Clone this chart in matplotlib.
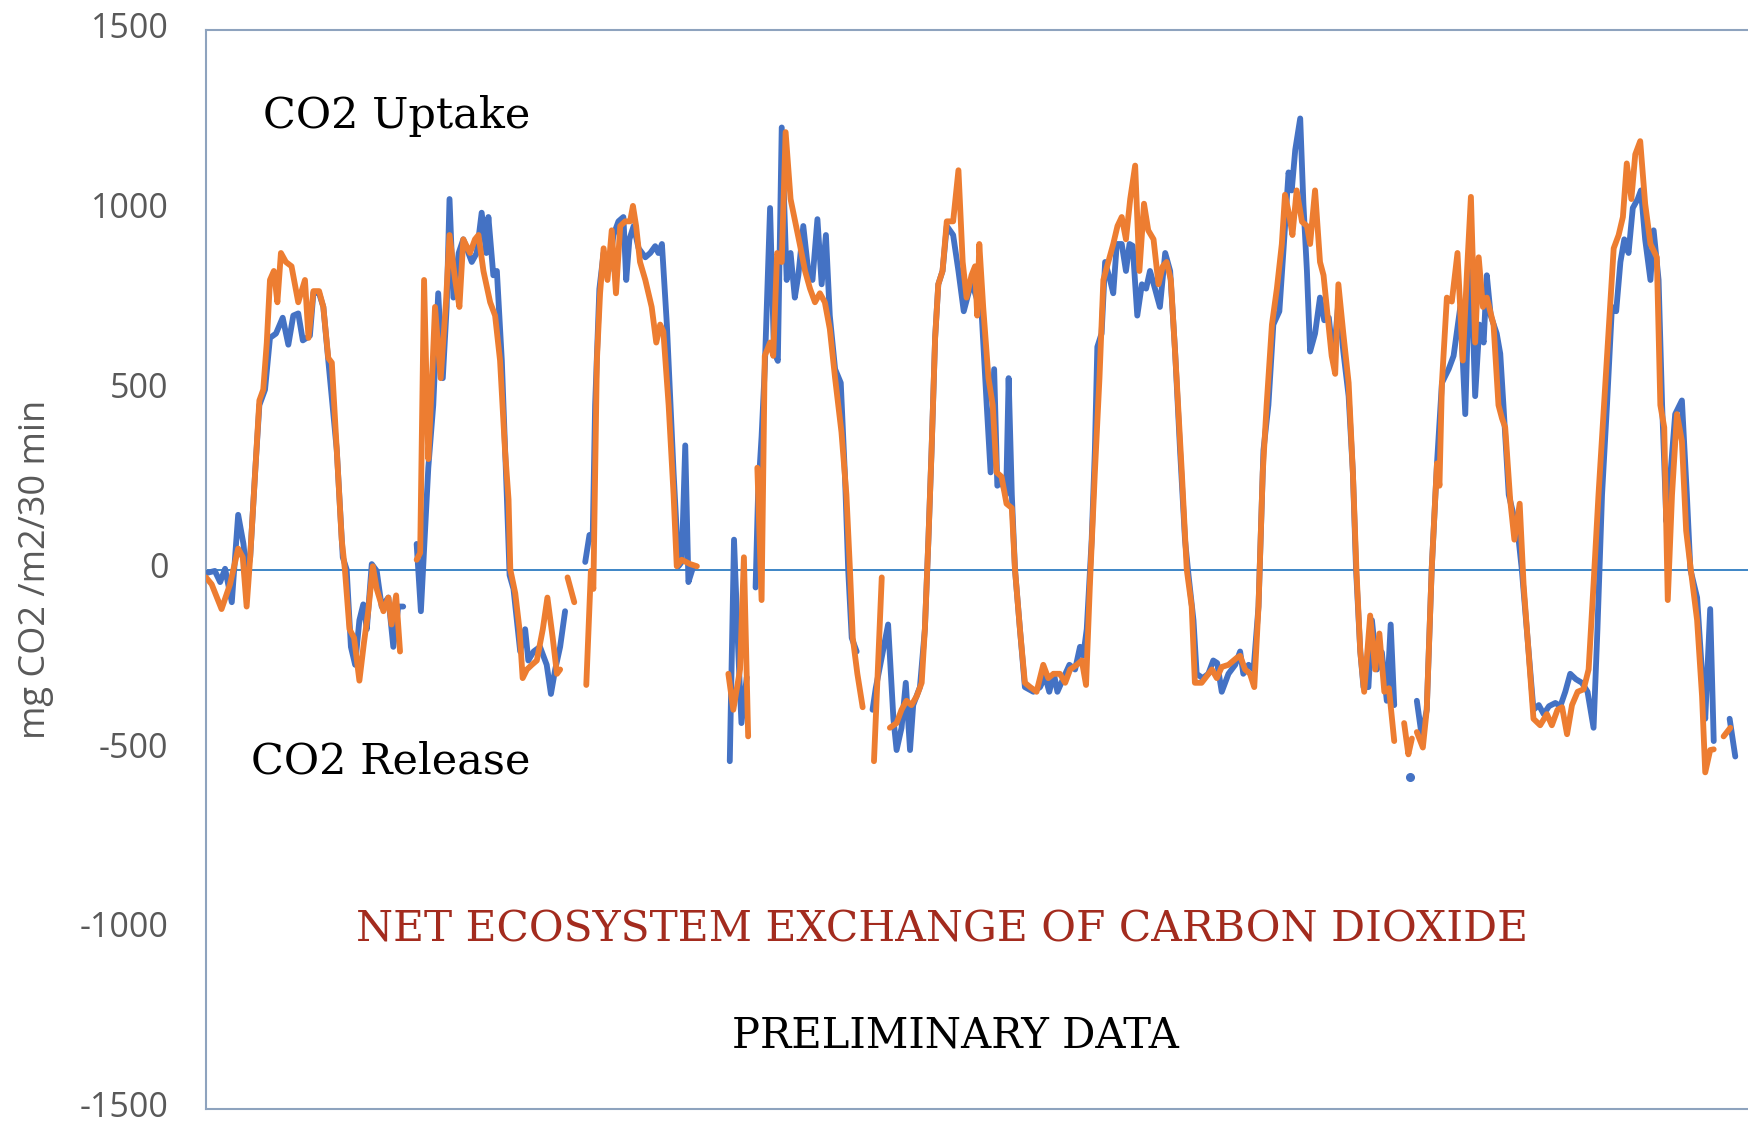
import numpy as np
import matplotlib
matplotlib.use("Agg")
import matplotlib.pyplot as plt

nan = np.nan

# half-hour index along the record, NEE in mg CO2 /m2/30 min (positive = uptake)
blue_t = [
    0, 2.5, 4.0, 5.4, 7.3, 9.1, 10.6, 11.5, 12.5, 13.9, 15.1, 16.7, 18.1, 19.8, 21.7, 23.3, 24.7,
    26.1, 27.4, 29.4, 30.4, 32.0, 33.2, 34.6, 37.0, 38.7, 39.8, 41.0, 42.2, 43.4, 44.5, 45.5, 46.9,
    48.3, 49.7, 51.6, 53.0, 54.4, 55.8, 57.5,
    59.6, 60.8, 62.9, 64.3, 65.7, 67.0, 68.1, 68.9, 70.0, 71.5, 72.8, 75.2, 76.6, 78.0, 79.3, 79.9,
    81.3, 82.3, 83.7, 85.1, 85.9, 87.0, 88.9, 90.3, 91.2, 92.7, 94.5, 96.4, 97.6, 98.8, 100.2, 101.6,
    104.0,
    107.3, 108.5, 109.4, 110.1, 111.3, 112.5, 113.9, 115.3, 116.7, 118.1, 118.9, 119.8, 121.0, 122.4,
    124.3, 125.7, 127.1, 128.0, 129.0, 130.4, 132.3, 133.7, 134.6, 135.6, 136.5, 137.9, 142.0,
    148.2, 149.4, 150.6, 151.5, 153.0, 154.2,
    155.5, 156.2, 157.2, 158.1, 159.6, 160.7, 161.8, 162.9, 164.3, 165.4, 166.6, 167.6, 169.0, 170.4,
    171.6, 173.0, 174.2, 175.4, 176.5, 178.0, 179.6, 180.8, 181.7, 182.7, 184.1, 186.0,
    188.6, 189.5, 193.0, 194.5, 195.4, 196.8, 198.0, 199.2, 200.1, 202.0, 203.4, 204.4, 205.3, 206.3,
    207.2, 208.4, 209.6, 211.4, 212.9, 214.4, 216.6, 218.0, 219.5, 220.9, 222.0, 223.0, 223.9, 225.1,
    226.4, 227.1, 228.0, 228.9, 230.3, 231.7, 234.1, 236.0, 237.4, 238.6, 239.9, 240.9, 242.6, 244.3,
    245.9, 247.3, 248.2, 249.2, 250.6, 251.5, 252.2, 253.4, 254.4, 255.8, 256.7, 257.7, 259.1, 260.3,
    261.3, 262.2, 263.5, 264.8, 266.0, 267.1, 268.5, 269.9, 271.4, 272.8, 274.2, 275.6, 277.0, 278.0,
    279.4, 280.3, 282.0, 283.6, 285.0, 286.1, 287.4, 289.3, 291.2, 292.6, 293.5, 295.0, 296.4, 297.8,
    299.2, 300.6, 302.0, 303.7, 304.9, 306.3, 307.2, 308.2, 309.6, 310.5, 311.5, 312.4, 313.8, 315.2,
    316.4, 317.7, 319.0, 320.4, 321.8, 323.3, 324.5, 325.4, 326.6, 327.5, 328.9, 329.9, 331.3, 332.7,
    334.1, 335.2, 336.2, 338.5,
    340.7, 341.6,
    342.6, 344.0, 345.4, 346.8, 348.3, 349.7, 351.6, 353.0, 354.9, 356.3, 357.7, 359.1, 360.3, 361.5,
    362.4, 363.5, 365.2, 366.2, 367.1, 368.6, 370.0, 371.4, 372.3, 373.7, 375.6, 377.1, 378.5, 380.0,
    381.8, 383.2, 384.6, 386.0, 387.6, 389.3, 390.9, 392.6, 393.7, 395.0, 396.4, 397.8, 399.0, 400.2,
    401.3, 402.5, 403.7, 405.1, 406.0, 407.2, 408.7, 409.6, 411.0, 412.0, 413.2, 414.3, 415.7, 417.6,
    419.0, 420.0, 421.9, 423.3, 424.2, 425.6, 426.6, 428.5,
    431.1, 432.7,
]
blue_v = [
    -10, -4, -35, 2, -91, 152, 71, -16, 34, 270, 457, 500, 644, 656, 700, 625, 706,
    712, 637, 650, 770, 768, 730, 581, 332, 34, 0, -215, -265, -141, -97, -166, 15,
    -4, -103, -78, -215, -103, -103, nan,
    71, -116, 283, 457, 768, 532, 730, 1030, 756, 880, 918, 855, 880, 992, 880, 980,
    818, 830, 581, 208, -16, -54, -228, -166, -253, -228, -215, -265, -346, -278, -215, -116,
    nan,
    21, 96, 83, 457, 780, 880, 830, 930, 968, 980, 805, 918, 955, 893,
    868, 880, 899, 880, 905, 681, 270, 9, 21, 345, -35, 9, nan,
    -533, 83, -228, -427, -300, nan,
    -50, 208, 370, 560, 1005, 606, 580, 1229, 805, 880, 756, 818, 955, 830,
    805, 974, 793, 930, 706, 557, 519, 258, 0, -190, -228, nan,
    -390, -330, -153, -415, -502, -440, -315, -502, -377, -327, -166, 83, 332, 644,
    793, 830, 955, 930, 830, 718, 800, 756, 706, 457, 270, 557, 233, 245,
    208, 532, 208, 0, -166, -327, -340, -327, -296, -340, -290, -340, -302, -265,
    -278, -215, -240, -166, 83, 332, 619, 656, 855, 805, 768, 905, 905, 830,
    905, 900, 706, 793, 781, 830, 781, 730, 880, 830, 606, 332, 83, -16,
    -141, -290, -302, -290, -253, -260, -340, -290, -265, -228, -290, -265, -278, -103,
    332, 457, 681, 718, 893, 1104, 1054, 1167, 1254, 1017, 830, 606, 656, 756,
    693, 700, 581, 743, 606, 482, 270, 0, -228, -327, -327, -141, -278, -230,
    -365, -153, -377, nan,
    -576, nan,
    -365, -464, -390, 0, 295, 519, 557, 594, 730, 432, 918, 482, 681, 631,
    818, 706, 656, 600, 457, 208, 150, 83, 0, -166, -390, -377, -402, -380,
    -371, -380, -340, -290, -305, -315, -340, -440, -166, 208, 457, 730, 718, 855,
    918, 880, 1005, 1030, 1054, 918, 805, 943, 805, 457, 133, 258, 432, 470,
    208, 0, -78, -290, -415, -110, -477, nan,
    -415, -520,
]

orange_t = [
    0, 1.6, 4.4, 6.8, 9.1, 10.4, 11.5, 12.5, 13.9, 15.1, 16.2, 17.2, 18.1, 19.2, 20.2, 21.2, 22.6,
    24.2, 26.1, 28.0, 29.0, 30.4, 32.0, 33.2, 34.6, 35.6, 37.0, 38.4, 39.3, 40.6, 41.9, 43.4, 44.7,
    45.9, 47.2, 48.3, 50.2, 51.6, 52.5, 53.8, 54.9, 57.0,
    59.6, 60.6, 61.7, 62.9, 63.9, 64.8, 66.4, 67.9, 68.9, 70.5, 71.7, 72.8, 74.7, 76.1, 77.1, 78.5,
    80.4, 81.8, 83.2, 84.6, 85.6, 86.1, 87.5, 88.7, 89.6, 90.8, 92.2, 93.6, 95.3, 96.6, 98.1, 99.3,
    100.2, 101.2,
    102.3, 104.2, 106.0,
    107.6, 108.9, 109.6, 110.6, 111.5, 112.5, 113.6, 114.8, 116.0, 117.2, 118.6, 120.0, 120.8, 121.7,
    122.8, 124.3, 126.1, 127.4, 128.5, 129.4, 130.9, 132.3, 133.2, 134.6, 137.0, 138.9, 143.0,
    147.8, 149.2, 151.1, 152.2, 153.4, 154.8,
    156.0, 157.2, 158.1, 159.6, 160.5, 161.6, 162.9, 164.0, 165.4, 168.0, 169.5, 170.9, 172.3, 173.7,
    175.1, 176.5, 178.0, 179.8, 181.2, 182.2, 183.0, 184.3, 185.8, 187.5,
    189.0, 191.2, 192.3,
    193.5, 195.4, 196.8, 198.2, 199.6, 201.1, 202.5, 203.4, 204.4, 205.3, 206.3, 207.2, 208.4, 209.6,
    211.4, 212.9, 214.1, 215.2, 216.6, 217.6, 218.2, 218.8, 219.9, 221.4, 222.6, 223.7, 225.1, 226.5,
    228.0, 228.9, 230.3, 231.7, 233.2, 235.0, 236.9, 238.3, 239.8, 241.6, 243.1, 244.5, 246.4, 247.8,
    249.0, 250.1, 251.5, 252.8, 253.9, 256.7, 257.9, 259.1, 260.3, 261.5, 262.9, 264.1, 265.4, 266.6,
    268.1, 269.5, 270.7, 271.8, 273.0, 274.7, 276.1, 277.5, 278.9, 279.8, 281.7, 284.6, 286.0, 287.4,
    289.3, 291.6, 292.6, 294.0, 295.4, 296.6, 297.8, 299.0, 300.1, 301.6, 303.0, 304.4, 305.3, 306.6,
    307.4, 308.6, 310.1, 311.5, 312.4, 313.8, 315.2, 316.2, 318.5, 319.5, 320.4, 321.8, 323.3, 324.5,
    325.5, 326.6, 327.7, 329.4, 330.8, 332.0, 333.4, 334.7, 336.2, 337.6,
    339.0, 340.2, 341.2, 341.9,
    342.6, 344.3, 345.4, 346.8, 348.3, 349.0, 349.7, 351.1, 352.5, 354.1, 355.6, 356.8, 357.9, 359.1,
    360.1, 361.3, 362.4, 364.3, 365.7, 366.7, 367.6, 369.0, 370.2, 371.7, 372.8, 374.2, 375.6, 377.5,
    379.4, 380.8, 382.4, 383.7, 385.1, 386.5, 388.1, 389.8, 391.2, 392.6, 394.0, 395.4, 396.9, 398.3,
    399.7, 400.9, 402.0, 403.3, 404.4, 405.8, 407.2, 408.7, 410.5, 411.5, 412.6, 413.6, 414.8, 416.2,
    417.6, 418.8, 420.0, 421.9, 423.3, 424.2, 425.6, 426.6, 428.0,
    429.4, 431.3,
]
orange_v = [
    -22, -41, -110, -41, 58, 34, -103, 34, 270, 470, 500, 631, 805, 830, 743, 880, 855,
    843, 743, 805, 644, 774, 774, 730, 588, 575, 332, 83, 0, -166, -190, -309, -203,
    -116, 9, -54, -116, -78, -153, -72, -228, nan,
    27, 46, 805, 307, 519, 730, 532, 743, 930, 805, 730, 918, 880, 918, 930, 830,
    743, 706, 581, 332, 195, 0, -66, -166, -302, -278, -265, -253, -166, -78, -190, -290,
    -278, nan,
    -22, -91, nan,
    -321, -4, -54, 581, 768, 893, 805, 943, 768, 955, 968, 968, 1011, 955,
    855, 805, 730, 631, 681, 662, 457, 208, 9, 27, 15, 9, nan,
    -290, -390, -278, 34, -464, nan,
    283, -85, 594, 631, 594, 880, 855, 1216, 1030, 905, 830, 781, 743, 768,
    743, 669, 532, 382, 208, 0, -190, -290, -383, nan,
    -533, -22, nan,
    -440, -427, -390, -365, -377, -352, -315, -166, 83, 332, 644, 793, 830, 968,
    968, 1110, 855, 756, 818, 843, 706, 905, 730, 532, 457, 270, 258, 183,
    171, 0, -166, -315, -327, -340, -265, -302, -290, -290, -315, -278, -265, -253,
    -321, -41, 270, 532, 805, 905, 955, 980, 918, 1030, 1123, 830, 1017, 943,
    918, 793, 843, 855, 805, 519, 270, 0, -103, -315, -315, -278, -302, -271,
    -265, -246, -240, -278, -290, -327, -103, 270, 457, 681, 781, 905, 1042, 980,
    930, 1054, 967, 955, 905, 1054, 855, 818, 594, 544, 793, 656, 519, 270,
    0, -228, -340, -128, -278, -178, -340, -330, -477, nan,
    -427, -514, -470, nan,
    -452, -495, -390, 0, 295, 233, 519, 756, 745, 880, 581, 830, 1036, 631,
    868, 730, 756, 681, 457, 420, 395, 195, 83, 183, -41, -228, -415, -433,
    -402, -433, -390, -383, -458, -377, -340, -333, -278, -41, 208, 432, 669, 893,
    930, 980, 1129, 1030, 1154, 1191, 1017, 905, 868, 457, 395, -85, 208, 432,
    357, 108, 9, -141, -352, -564, -502, -500, nan,
    -464, -440,
]

y_ticks = [-1500, -1000, -500, 0, 500, 1000, 1500]

W, H = 1748, 1124
fig = plt.figure(figsize=(W / 100, H / 100), dpi=100)
ax = fig.add_axes([206 / W, 1 - 1109 / H, 1 - 206 / W, (1109 - 30) / H])

blue_col = "#4472C4"
orange_col = "#ED7D31"

for t, v, c, z in [(blue_t, blue_v, blue_col, 3), (orange_t, orange_v, orange_col, 4)]:
    t = np.asarray(t, float)
    v = np.asarray(v, float)
    ax.plot(t, v, color=c, lw=4.2, solid_joinstyle="round", solid_capstyle="round", zorder=z)
    # points standing alone between gaps
    ok = ~np.isnan(v)
    prev_ok = np.r_[False, ok[:-1]]
    next_ok = np.r_[ok[1:], False]
    alone = ok & ~prev_ok & ~next_ok
    ax.plot(t[alone], v[alone], "o", color=c, ms=5.5, zorder=z)

ax.axhline(0, color="#3D85C6", lw=1.4, zorder=2)

ax.set_xlim(0, 436.3)
ax.set_ylim(-1500, 1500)
ax.set_xticks([])
ax.set_yticks([])

# tick labels drawn by hand so the lowest one sits inside the canvas
for val in y_ticks:
    ax.annotate(str(val), xy=(0, val), xycoords=("axes fraction", "data"),
                xytext=(-27, 0.5), textcoords="offset points", ha="right", va="center",
                fontsize=24.5, color="#595959", family="Open Sans", annotation_clip=False)

for side in ["left", "top", "bottom"]:
    ax.spines[side].set_color("#8EA3BE")
    ax.spines[side].set_linewidth(1.5)
ax.spines["right"].set_visible(False)

fig.text(36 / W, 1 - 569 / H, "mg CO2 /m2/30 min", rotation=90, ha="center", va="center",
         fontsize=26, color="#595959", family="Open Sans")

serif = "DejaVu Serif"
fig.text(263 / W, 1 - 116 / H, "CO2 Uptake", ha="left", va="center",
         fontsize=31, color="black", family=serif)
fig.text(251 / W, 1 - 761 / H, "CO2 Release", ha="left", va="center",
         fontsize=31, color="black", family=serif)
fig.text(942 / W, 1 - 929 / H, "NET ECOSYSTEM EXCHANGE OF CARBON DIOXIDE", ha="center",
         va="center", fontsize=30.5, color="#A32B1E", family=serif)
fig.text(955 / W, 1 - 1035 / H, "PRELIMINARY DATA", ha="center", va="center",
         fontsize=30, color="black", family=serif)

fig.savefig("out.png", dpi=100, facecolor="white")
